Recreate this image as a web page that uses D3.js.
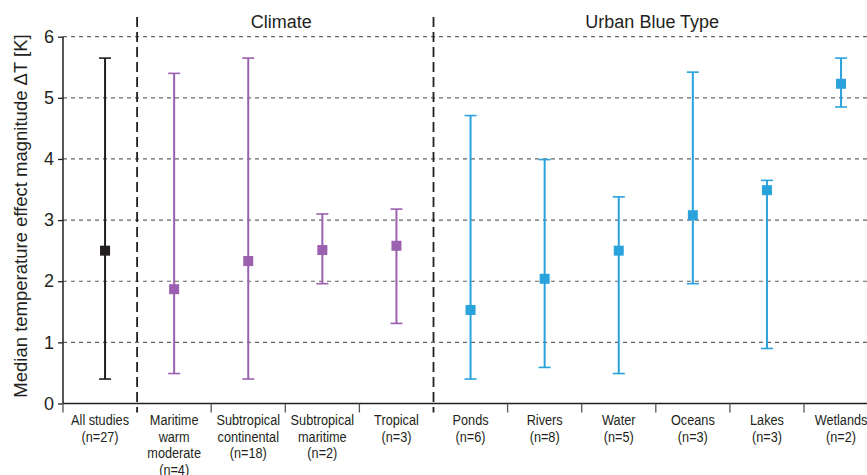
<!DOCTYPE html>
<html>
<head>
<meta charset="utf-8">
<script src="https://cdn.jsdelivr.net/npm/d3@7"></script>
<style>
  body { margin: 0; background: #fff; }
  svg { display: block; font-family: Arial, "Liberation Sans", sans-serif; }
</style>
</head>
<body>
<svg id="chart" width="867" height="475"></svg>
<script>
// category labels (multi-line)
const categories = [
  ["All studies", "(n=27)"],
  ["Maritime", "warm", "moderate", "(n=4)"],
  ["Subtropical", "continental", "(n=18)"],
  ["Subtropical", "maritime", "(n=2)"],
  ["Tropical", "(n=3)"],
  ["Ponds", "(n=6)"],
  ["Rivers", "(n=8)"],
  ["Water", "(n=5)"],
  ["Oceans", "(n=3)"],
  ["Lakes", "(n=3)"],
  ["Wetlands", "(n=2)"]
];
const groups = ["all", "climate", "climate", "climate", "climate",
  "blue", "blue", "blue", "blue", "blue", "blue"];
const medians = [2.50, 1.87, 2.33, 2.51, 2.58, 1.53, 2.04, 2.50, 3.08, 3.49, 5.23];
const lows    = [0.40, 0.49, 0.40, 1.96, 1.31, 0.40, 0.59, 0.49, 1.96, 0.90, 4.85];
const highs   = [5.65, 5.40, 5.65, 3.10, 3.18, 4.71, 3.99, 3.38, 5.42, 3.65, 5.65];
const yTicks = [0, 1, 2, 3, 4, 5, 6];
const sections = [
  { name: "Climate", from: 1, to: 4 },
  { name: "Urban Blue Type", from: 5, to: 10 }
];

(() => {
  const colors = { all: "#231f20", climate: "#9b60b0", blue: "#2aa2dc" };

  const svg = d3.select("#chart");
  const W = 867;
  const plotLeft = 63, plotTop = 36.7, plotBottom = 403.5, bandW = 74.1;

  const x = d3.scaleBand()
    .domain(d3.range(categories.length))
    .range([plotLeft, plotLeft + bandW * categories.length])
    .padding(0);
  const y = d3.scaleLinear().domain([0, 6]).range([plotBottom, plotTop]);

  // horizontal grid
  svg.append("g")
    .selectAll("line")
    .data(yTicks.filter(d => d > 0))
    .join("line")
    .attr("x1", plotLeft).attr("x2", W)
    .attr("y1", d => y(d)).attr("y2", d => y(d))
    .attr("stroke", "#666")
    .attr("stroke-width", 1.2)
    .attr("stroke-dasharray", "4,4");

  // section separators
  const seps = [1, 5];
  svg.append("g")
    .selectAll("line")
    .data(seps)
    .join("line")
    .attr("x1", d => x(d)).attr("x2", d => x(d))
    .attr("y1", 17).attr("y2", plotBottom + 9)
    .attr("stroke", "#231f20")
    .attr("stroke-width", 1.8)
    .attr("stroke-dasharray", "10,5");

  // section titles
  svg.append("g")
    .selectAll("text")
    .data(sections)
    .join("text")
    .attr("x", d => d.name === "Climate"
      ? (x(d.from) + x(d.to) + x.bandwidth()) / 2 - 4
      : (x(d.from) + W) / 2 + 2)
    .attr("y", 28)
    .attr("text-anchor", "middle")
    .attr("font-size", 18)
    .attr("fill", "#231f20")
    .text(d => d.name);

  // y axis
  const yAxis = svg.append("g")
    .attr("transform", `translate(${plotLeft},0)`)
    .call(d3.axisLeft(y).tickValues(yTicks).tickSize(5).tickPadding(4).tickFormat(d3.format("d")));
  yAxis.select(".domain").attr("stroke", "#231f20").attr("stroke-width", 1.5)
    .attr("d", `M0,${plotTop}V${plotBottom}`);
  yAxis.selectAll(".tick line").attr("stroke", "#231f20").attr("stroke-width", 1.3);
  yAxis.selectAll(".tick text")
    .attr("font-size", 18)
    .attr("font-family", "Arial, 'Liberation Sans', sans-serif")
    .attr("fill", "#231f20");

  svg.append("text")
    .attr("transform", `translate(27,216) rotate(-90)`)
    .attr("text-anchor", "middle")
    .attr("font-size", 18.5)
    .attr("fill", "#231f20")
    .text("Median temperature effect magnitude \u0394T [K]");

  // x axis line and boundary ticks
  svg.append("line")
    .attr("x1", plotLeft).attr("x2", W)
    .attr("y1", plotBottom).attr("y2", plotBottom)
    .attr("stroke", "#231f20").attr("stroke-width", 1.5);
  svg.append("g")
    .selectAll("line")
    .data(d3.range(categories.length + 1).filter(i => !seps.includes(i)))
    .join("line")
    .attr("x1", i => plotLeft + i * x.bandwidth()).attr("x2", i => plotLeft + i * x.bandwidth())
    .attr("y1", plotBottom).attr("y2", plotBottom + 9)
    .attr("stroke", "#555").attr("stroke-width", 1.3);

  // category labels, condensed
  svg.append("g")
    .selectAll("text")
    .data(categories)
    .join("text")
    .attr("transform", (d, i) => `translate(${x(i) + x.bandwidth() / 2},425) scale(0.82,1)`)
    .attr("text-anchor", "middle")
    .attr("font-size", 15.5)
    .attr("fill", "#231f20")
    .selectAll("tspan")
    .data(d => d)
    .join("tspan")
    .attr("x", 0)
    .attr("dy", (d, i) => i === 0 ? 0 : 16.7)
    .text(d => d);

  // error bars
  const pts = categories.map((c, i) => ({
    i, med: medians[i], lo: lows[i], hi: highs[i], color: colors[groups[i]], g: groups[i]
  }));
  // the "all studies" bar sits a little right of its band centre
  const cx = d => x(d.i) + x.bandwidth() / 2 + (d.g === "all" ? 5 : 0);
  const bars = svg.append("g").selectAll("g").data(pts).join("g");
  bars.append("line")
    .attr("x1", cx).attr("x2", cx)
    .attr("y1", d => y(d.lo)).attr("y2", d => y(d.hi))
    .attr("stroke", d => d.color).attr("stroke-width", 2);
  bars.append("line")
    .attr("x1", d => cx(d) - 6).attr("x2", d => cx(d) + 6)
    .attr("y1", d => y(d.hi)).attr("y2", d => y(d.hi))
    .attr("stroke", d => d.color).attr("stroke-width", 1.6);
  bars.append("line")
    .attr("x1", d => cx(d) - 6).attr("x2", d => cx(d) + 6)
    .attr("y1", d => y(d.lo)).attr("y2", d => y(d.lo))
    .attr("stroke", d => d.color).attr("stroke-width", 1.6);
  bars.append("rect")
    .attr("x", d => cx(d) - 5).attr("y", d => y(d.med) - 5)
    .attr("width", 10).attr("height", 10)
    .attr("fill", d => d.color);
})();
</script>
</body>
</html>
